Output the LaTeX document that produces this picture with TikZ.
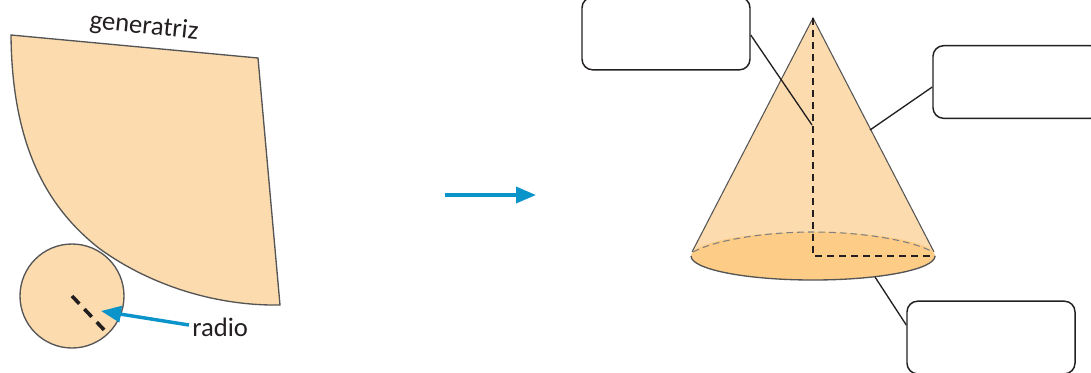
\documentclass[tikz,border=0pt]{standalone}
\usepackage{fontspec}
\setmainfont{Carlito}
\usetikzlibrary{arrows.meta}
\definecolor{peach}{HTML}{FCDCAE}
\definecolor{basecol}{HTML}{FDCC86}
\definecolor{edgecol}{HTML}{555555}
\definecolor{inkcol}{HTML}{231F20}
\definecolor{arrowblue}{HTML}{0A94C9}
\tikzset{
  shapeline/.style={draw=edgecol,line width=1pt,fill=peach},
  labelbox/.style={draw=inkcol,line width=1.1pt,rounded corners=8pt,fill=white,minimum width=126pt,minimum height=54.5pt,inner sep=0pt},
  leader/.style={draw=inkcol,line width=1pt},
  dashline/.style={draw=inkcol,line width=1.2pt,dash pattern=on 5pt off 4pt},
  bluearrow/.style={draw=arrowblue,line width=2.6pt,-{Triangle[length=15pt,width=12pt]}},
  lbl/.style={text=inkcol,font=\fontsize{20}{24}\selectfont,inner sep=0pt}
}
\begin{document}
\begin{tikzpicture}[x=0.75pt,y=-0.75pt]
\useasboundingbox (0,0) rectangle (1091,372);
\clip (0,0) rectangle (1091,372);
% sector
\coordinate (sa) at (11,35);
\coordinate (sb) at (258,58);
\coordinate (sc) at (280,305);
\coordinate (sd) at (100,249);
\draw[shapeline] (sa) -- (sb) -- (sc) .. controls (215,306) and (150,285) .. (sd) .. controls (50,210) and (12,150) .. (sa) -- cycle;
\node[lbl,rotate=-6] (gen) at (144,27) {generatriz};
% circle
\node[shapeline,circle,minimum size=78pt,inner sep=0pt] (disc) at (72,296) {};
\coordinate (rc) at (72,296);
\coordinate (re) at (108,334);
\draw[draw=inkcol,line width=2.7pt,dash pattern=on 8pt off 5.5pt] (rc) -- (re);
\node[lbl,anchor=west] (radio) at (192,327) {radio};
\coordinate (rt) at (101,311);
\coordinate (rs) at (189,325);
\draw[bluearrow] (rs) -- (rt);
% transformation arrow
\coordinate (ta) at (445,195);
\coordinate (tb) at (536,195);
\draw[bluearrow] (ta) -- (tb);
% cone
\coordinate (apex) at (813,18);
\coordinate (bl) at (692,252);
\coordinate (br) at (934,252);
\coordinate (bc) at (813,256);
\coordinate (bm) at (935,256);
\fill[peach] (apex) -- (bl) -- (br) -- cycle;
\draw[draw=edgecol,line width=0.8pt] (bl) -- (apex) -- (br);
\fill[basecol] (bc) ellipse [x radius=122,y radius=24];
\draw[draw=edgecol,line width=1pt] (691,256) arc[start angle=180,end angle=0,x radius=122,y radius=24];
\draw[draw=gray,line width=0.8pt,dash pattern=on 5pt off 3pt] (693,252) .. controls (715,240) and (765,232) .. (813,232) .. controls (861,232) and (911,240) .. (933,252);
\draw[dashline] (apex) -- (bc) -- (bm);
% boxes
\node[labelbox] (b1) at (666,33.5) {};
\node[labelbox] (b2) at (1017,82) {};
\node[labelbox] (b3) at (991,337.5) {};
\coordinate (c1) at (812,125);
\coordinate (c2) at (870,130);
\coordinate (c3) at (875,277);
\draw[leader] (b1.east |- 0,35) -- (c1);
\draw[leader] (b2.west |- 0,87) -- (c2);
\draw[leader] (b3.west |- 0,325) -- (c3);
\end{tikzpicture}
\end{document}
